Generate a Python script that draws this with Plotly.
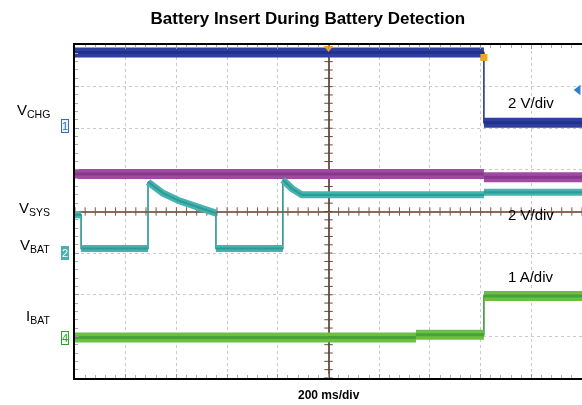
import numpy as np
import plotly.graph_objects as go

# ---- data (time in ms relative to trigger, level in screen divisions from centre) ----
vchg_t = [-1000, 613, 613, 1000]
vchg_v = [3.82, 3.82, 2.13, 2.13]

vsys_t = [-1000, 613, 613, 1000]
vsys_v = [0.90, 0.90, 0.82, 0.82]

vbat_t = [-1000, -976, -976, -712, -712, -653, -586, -519, -444, -444,
          -180, -180, -144, -105, 613, 613, 1000]
vbat_v = [-0.08, -0.08, -0.89, -0.89, 0.71, 0.44, 0.25, 0.11, -0.04, -0.89,
          -0.89, 0.76, 0.55, 0.40, 0.40, 0.46, 0.46]

ibat_t = [-1000, 345, 345, 613, 613, 1000]
ibat_v = [-3.03, -3.03, -2.96, -2.96, -2.03, -2.03]

title = "Battery Insert During Battery Detection"
x_label = "200 ms/div"
scale_labels = ["2 V/div", "2 V/div", "1 A/div"]
scale_pos_t = [800, 800, 800]
scale_pos_v = [2.63, -0.08, -1.57]

ch_names = ["V<sub>CHG</sub>", "V<sub>SYS</sub>", "V<sub>BAT</sub>", "I<sub>BAT</sub>"]
ch_name_v = [2.43, 0.08, -0.81, -2.53]

markers = ["1", "2", "4"]
marker_v = [2.06, -1.0, -3.05]


def thick_path(t, v):
    xs, ys = [], []
    for i in range(len(t)):
        if i > 0 and t[i] == t[i - 1]:
            xs.append(None)
            ys.append(None)
        xs.append(t[i])
        ys.append(v[i])
    return xs, ys


fig = go.Figure()


def add_channel(t, v, color, edge, width):
    fig.add_trace(go.Scatter(x=t, y=v, mode="lines", line=dict(color=edge, width=1.5),
                             hoverinfo="skip", showlegend=False))
    xs, ys = thick_path(t, v)
    fig.add_trace(go.Scatter(x=xs, y=ys, mode="lines", line=dict(color=color, width=width),
                             hoverinfo="skip", showlegend=False, connectgaps=False))
    fig.add_trace(go.Scatter(x=xs, y=ys, mode="lines", line=dict(color=edge, width=max(1, width * 0.3)),
                             opacity=0.6, hoverinfo="skip", showlegend=False, connectgaps=False))


# centre graticule ticks
ct = np.arange(-1000, 1001, 40)
fig.add_trace(go.Scatter(x=ct, y=[0] * len(ct), mode="markers",
                         marker=dict(symbol="line-ns", size=6, line=dict(color="#7a5a4a", width=1)),
                         hoverinfo="skip", showlegend=False))
cv = np.arange(-4, 4.001, 0.2)
fig.add_trace(go.Scatter(x=[0] * len(cv), y=cv, mode="markers",
                         marker=dict(symbol="line-ew", size=6, line=dict(color="#5a4a40", width=1)),
                         hoverinfo="skip", showlegend=False))

add_channel(vchg_t, vchg_v, "#2f3f9f", "#1c2a80", 10)
add_channel(vsys_t, vsys_v, "#a04aa4", "#7a2a80", 10)
add_channel(vbat_t, vbat_v, "#45b3ae", "#1f8a88", 7)
add_channel(ibat_t, ibat_v, "#6cbf45", "#2f8f2f", 10)

# trigger / level markers
fig.add_trace(go.Scatter(x=[0], y=[3.93], mode="markers",
                         marker=dict(symbol="triangle-down", size=8, color="#f0a020"),
                         hoverinfo="skip", showlegend=False, cliponaxis=False))
fig.add_trace(go.Scatter(x=[613], y=[3.7], mode="markers",
                         marker=dict(symbol="square", size=7, color="#f5a030"),
                         hoverinfo="skip", showlegend=False, cliponaxis=False))
fig.add_trace(go.Scatter(x=[985], y=[2.92], mode="markers",
                         marker=dict(symbol="triangle-left", size=9, color="#2f7fd0"),
                         hoverinfo="skip", showlegend=False, cliponaxis=False))

FONT = "Liberation Sans, Arial"
annotations = []
for txt, tx, ty in zip(scale_labels, scale_pos_t, scale_pos_v):
    annotations.append(dict(x=tx, y=ty, xref="x", yref="y", text=txt, showarrow=False,
                            font=dict(family=FONT, size=15, color="black")))
for txt, ty in zip(ch_names, ch_name_v):
    annotations.append(dict(x=-0.045, y=ty, xref="paper", yref="y", text=txt, showarrow=False,
                            xanchor="right", font=dict(family=FONT, size=15, color="black")))
mk_styles = [
    dict(color="#2f6fc0", bg="#eaf2fb", border="#2f6fc0"),
    dict(color="white", bg="#45b3ae", border="#45b3ae"),
    dict(color="#2f9f2f", bg="#f2fbef", border="#2f9f2f"),
]
for txt, ty, st in zip(markers, marker_v, mk_styles):
    annotations.append(dict(x=-0.012, y=ty, xref="paper", yref="y", text=txt, showarrow=False,
                            xanchor="right", borderwidth=1, borderpad=0,
                            font=dict(family=FONT, size=11, color=st["color"]),
                            bgcolor=st["bg"], bordercolor=st["border"]))
annotations.append(dict(x=0.5, y=-0.051, xref="paper", yref="paper", text="<b>" + x_label + "</b>",
                        showarrow=False, yanchor="middle",
                        font=dict(family=FONT, size=12, color="black")))

fig.update_layout(
    width=582, height=405,
    margin=dict(l=75, r=0, t=45, b=27),
    paper_bgcolor="white", plot_bgcolor="white",
    title=dict(text="<b>" + title + "</b>", x=0.529, xanchor="center", y=0.956, yanchor="middle",
               font=dict(family=FONT, size=17, color="black")),
    xaxis=dict(range=[-1000, 1000], dtick=200, tick0=-1000, showticklabels=False,
               showgrid=True, gridcolor="#c9c9d0", griddash="dot", gridwidth=1,
               zeroline=True, zerolinecolor="#7a5a4a", zerolinewidth=1.5,
               showline=True, linecolor="black", linewidth=2, mirror="allticks",
               ticks="inside", ticklen=4, tickcolor="#999",
               minor=dict(ticks="inside", dtick=40, ticklen=3, tickcolor="#aaa"),
               fixedrange=True),
    yaxis=dict(range=[-4, 4], dtick=1, tick0=-4, showticklabels=False,
               showgrid=True, gridcolor="#c9c9d0", griddash="dot", gridwidth=1,
               zeroline=True, zerolinecolor="#8a6a5a", zerolinewidth=1.5,
               showline=True, linecolor="black", linewidth=2, mirror=False,
               ticks="inside", ticklen=4, tickcolor="#999",
               minor=dict(ticks="inside", dtick=0.2, ticklen=3, tickcolor="#aaa"),
               fixedrange=True),
    annotations=annotations,
)

fig.write_html("out.html", config={"displayModeBar": False},
               post_script="document.body.style.margin='0';document.body.style.overflow='hidden';")
